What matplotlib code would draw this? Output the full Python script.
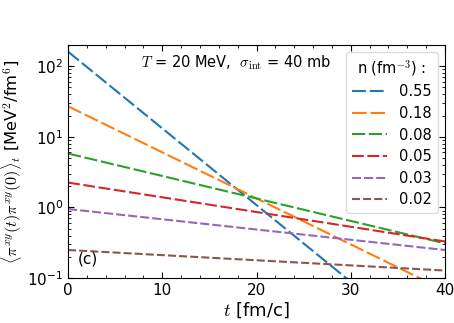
import numpy as np
import matplotlib.pyplot as plt
from matplotlib.ticker import MultipleLocator, LogLocator, NullFormatter

plt.rcParams['mathtext.fontset'] = 'cm'
plt.rcParams['font.family'] = 'DejaVu Sans'
plt.rcParams['lines.scale_dashes'] = False

# time points (start / end of each straight decay)
t_points = [0, 40]

densities = ['0.55', '0.18', '0.08', '0.05', '0.03', '0.02']
corr_start = [160.0, 27.0, 5.8, 2.25, 0.95, 0.25]
corr_end = [0.0073, 0.067, 0.31, 0.33, 0.25, 0.128]

colors = ['C0', 'C1', 'C2', 'C3', 'C4', 'C5']
dash_styles = [(10, 2.8), (10.5, 2.8), (9.5, 2.6), (8.5, 2.6), (6.5, 2.2), (5.8, 2.2)]

fig = plt.figure(figsize=(4.54, 3.23), dpi=100)
ax = fig.add_axes([0.150, 0.139, 0.830, 0.722])

for i in range(len(densities)):
    ax.plot(t_points, [corr_start[i], corr_end[i]], color=colors[i],
            linestyle='--', dashes=dash_styles[i], linewidth=1.5, label=densities[i])

ax.set_yscale('log')
ax.set_xlim(0, 40)
ax.set_ylim(0.1, 200)

ax.xaxis.set_major_locator(MultipleLocator(10))
ax.xaxis.set_minor_locator(MultipleLocator(2))
ax.yaxis.set_minor_locator(LogLocator(base=10, subs=np.arange(2, 10)))
ax.yaxis.set_minor_formatter(NullFormatter())
ax.tick_params(which='both', direction='in', top=True, right=True, labelsize=11)
ax.tick_params(which='major', length=4)
ax.tick_params(which='minor', length=2)

ax.set_xlabel(r'$t$ [fm/c]', fontsize=13, labelpad=2)
ax.set_ylabel(r'$\langle\pi^{xy}(t)\pi^{xy}(0)\rangle_t$ [MeV$^2$/fm$^6$]', fontsize=11.8, labelpad=2)

ax.text(0.445, 0.925, r'$T$ = 20 MeV,  $\sigma_{\rm int}$ = 40 mb', transform=ax.transAxes,
        ha='center', va='center', fontsize=10.5)
ax.text(0.025, 0.05, '(c)', transform=ax.transAxes, ha='left', va='bottom', fontsize=11)

leg = ax.legend(title=r'n (fm$^{-3}$) :', loc='upper right', fontsize=10.5, title_fontsize=10.5,
                handlelength=2.4, labelspacing=0.45, borderaxespad=0.5, handletextpad=0.8)
leg.get_frame().set_edgecolor('lightgray')

fig.savefig('out.png', dpi=100)
